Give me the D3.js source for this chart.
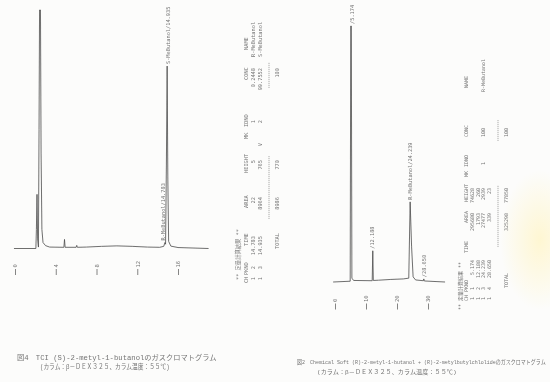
<!DOCTYPE html>
<html>
<head>
<meta charset="utf-8">
<script src="https://cdn.jsdelivr.net/npm/d3@7"></script>
<style>
body { margin: 0; background: #fcfcfb; }
svg { display: block; }
text { fill: #747474; }
.mono { font-family: "DejaVu Sans Mono", "Liberation Mono", "Noto Sans CJK JP", monospace; }
.cap { font-family: "Liberation Mono", "Noto Sans CJK JP", monospace; }
</style>
</head>
<body>
<div id="page"></div>
<script>
var W = 550, H = 382

// ---- fig 4 (left) : TCI (S)-2-metyl-1-butanol ----
// trace: [time min, signal % of full scale]
var trace1 = [[-0.1,0],[2.05,0],[2.1,8],[2.16,22.7],[2.22,4],[2.3,0.6],[2.36,50],[2.41,100],[2.5,100],[2.56,40],[2.64,8],[2.75,2.5],[3.0,1.2],[3.4,0.6],
  [4.8,0.5],[4.86,3.8],[4.92,0.5],[6.0,0.5],[6.06,1.3],[6.12,0.5],[7.0,0.6],[8.5,0.9],[10.0,1.1],[11.5,0.9],[13.0,0.6],[14.2,0.5],
  [14.6,0.9],[14.72,2.5],[14.78,1.8],[14.86,35],[14.935,76.5],[15.0,30],[15.08,3],[15.3,1],[16.0,0.4],[19.0,0]]
var ticks1 = [0, 4, 8, 12, 16]
var peakTime1 = [14.783, 14.935]
var peakTop1 = [2.5, 76.5]
var peakName1 = ["R-MeButanol", "S-MeButanol"]

var head = ["CH", "PKNO", "TIME", "AREA", "HEIGHT", "MK", "IDNO", "CONC", "NAME"]
var table1 = [
  [1, 2, "14.783", 22, 5, "", 1, "0.2448", "R-MeButanol"],
  [1, 3, "14.935", 8964, 765, "V", 2, "99.7552", "S-MeButanol"]
]
var total1 = ["TOTAL", 8986, 770, 100]

// ---- fig 2 (right) : Chemical Soft ----
var trace2 = [[-0.6,0],[4.9,0.3],[5.08,100],[5.26,100],[5.45,1.5],[6.0,0.6],[12.0,0.5],[12.188,12.2],[12.36,0.6],[14.0,0.7],[18.0,1.0],
  [22.0,1.2],[23.8,1.5],[24.239,31.3],[24.7,14],[25.2,2],[26.0,0.8],[28.5,0.5],[28.65,1.2],[28.8,0.4],[35.5,0]]
var ticks2 = [0, 10, 20, 30]
var peakTime2 = [5.174, 12.188, 24.239, 28.650]
var peakTop2 = [100, 12.2, 31.3, 1.1]
var peakName2 = ["", "", "R-MeButanol", ""]

var table2 = [
  [1, 1, "5.174", 295680, 74628, "", "", "", ""],
  [1, 2, "12.188", 1793, 260, "", "", "", ""],
  [1, 3, "24.239", 27477, 2939, "", 1, "100", "R-MeButanol"],
  [1, 4, "28.650", 339, 23, "", "", "", ""]
]
var total2 = ["TOTAL", 325298, 77850, 100]

var caption1 = ["図4　TCI (S)-2-metyl-1-butanolのガスクロマトグラム", "(カラム：β－ＤＥＸ３２５、カラム温度：５５℃)"]
var caption2 = ["図2　Chemical Soft (R)-2-metyl-1-butanol + (R)-2-metylbutylchlolideのガスクロマトグラム", "(カラム：β－ＤＥＸ３２５、カラム温度：５５℃)"]

var svg = d3.select("#page").append("svg").attr("width", W).attr("height", H)

var defs = svg.append("defs")
// the scan is slightly soft
defs.append("filter").attr("id", "soft")
  .append("feGaussianBlur").attr("stdDeviation", 0.3)
// faint yellowing of the paper on the right
var rg = defs.append("radialGradient").attr("id", "yel")
rg.append("stop").attr("offset", "0%").attr("stop-color", "#fff5c8").attr("stop-opacity", 0.8)
rg.append("stop").attr("offset", "100%").attr("stop-color", "#fff5c8").attr("stop-opacity", 0)
svg.append("ellipse").attr("cx", 540).attr("cy", 240).attr("rx", 40).attr("ry", 70).attr("fill", "url(#yel)")

var root = svg.append("g").attr("filter", "url(#soft)")

function vtext(g, x, y, str, anchor, size) {
  return g.append("text")
    .attr("class", "mono")
    .attr("transform", "translate(" + x + "," + y + ") rotate(-90)")
    .attr("text-anchor", anchor)
    .attr("dominant-baseline", "middle")
    .style("font-size", size + "px")
    .text(str)
}

function chromatogram(opt) {
  var g = root.append("g")
  var x = d3.scaleLinear().domain(opt.xd).range(opt.xr)
  var y = d3.scaleLinear().domain([0, 100]).range(opt.yr)
  var line = d3.line().x(d => x(d[0])).y(d => y(d[1]))
  g.append("path").datum(opt.trace)
    .attr("d", line)
    .attr("fill", "none")
    .attr("stroke", "#4a4a4a")
    .attr("stroke-width", 0.8)
    .attr("stroke-linejoin", "round")

  var ax = d3.axisBottom(x).tickValues(opt.ticks).tickSize(6).tickFormat(d3.format("d"))
  g.append("g")
    .attr("transform", "translate(0," + opt.axisY + ")")
    .style("color", "#666")
    .call(ax)
    .call(a => a.select(".domain").remove())
    .call(a => a.selectAll(".tick line").attr("stroke-width", 0.8))
    .call(a => a.selectAll(".tick text")
      .attr("class", "mono")
      .attr("font-size", 5.5)
      .attr("transform", "rotate(-90)")
      .attr("x", 1.5).attr("y", 0).attr("dy", "0.35em")
      .attr("text-anchor", "start"))

  opt.pTime.forEach(function(t, i) {
    var s = (opt.pName[i] ? opt.pName[i] : "") + "/" + t.toFixed(3)
    vtext(g, x(t) + (opt.pDx[i] || 0), y(opt.pTop[i]) - 2, s, "start", 5.3)
  })
}

chromatogram({
  trace: trace1, xd: [0, 16], xr: [15, 178], yr: [248.5, 10],
  ticks: ticks1, axisY: 269,
  pTime: peakTime1, pTop: peakTop1, pName: peakName1, pDx: [-2, 1.5]
})
chromatogram({
  trace: trace2, xd: [0, 30], xr: [335, 428], yr: [282, 26],
  ticks: ticks2, axisY: 303.5,
  pTime: peakTime2, pTop: peakTop2, pName: peakName2, pDx: [2, 0, 0, 1]
})

// rotated result tables
function resultTable(opt) {
  var g = root.append("g")
  vtext(g, opt.xs.title, opt.titleY, "** 定量計算結果 **", "start", opt.fs)
  head.forEach(function(h, j) {
    vtext(g, opt.xs.head, opt.cols[j][0], h, "start", opt.fs)
  })
  opt.rows.forEach(function(r, i) {
    r.forEach(function(v, j) {
      if (v === "") return
      var c = opt.cols[j]
      if (j == 8) vtext(g, opt.xs.rows[i], c[2], v, "start", opt.fs)
      else vtext(g, opt.xs.rows[i], c[1], String(v), "end", opt.fs)
    })
  })
  opt.dash.forEach(function(d) {
    g.append("line")
      .attr("x1", opt.xs.dash).attr("x2", opt.xs.dash)
      .attr("y1", d[0]).attr("y2", d[1])
      .attr("stroke", "#777").attr("stroke-width", 0.6)
      .attr("stroke-dasharray", "1.2,0.8")
  })
  vtext(g, opt.xs.total, opt.totalY, opt.total[0], "start", opt.fs)
  vtext(g, opt.xs.total, opt.cols[3][1], String(opt.total[1]), "end", opt.fs)
  vtext(g, opt.xs.total, opt.cols[4][1], String(opt.total[2]), "end", opt.fs)
  vtext(g, opt.xs.total, opt.cols[7][1], String(opt.total[3]), "end", opt.fs)
}

// cols: [header start y, value top y (numbers), value start y (names)]
resultTable({
  rows: table1, total: total1, fs: 5.3,
  xs: { title: 239, head: 246.5, rows: [254, 261], dash: 269, total: 277.5 },
  titleY: 280, totalY: 249,
  cols: [[283, 277], [275, 266], [246, 236], [208, 197], [173, 160], [139, 143], [127, 120], [80, 68], [50, 0, 57]],
  dash: [[219, 156], [88, 62]]
})
resultTable({
  rows: table2, total: total2, fs: 5,
  xs: { title: 461, head: 467, rows: [473, 478.5, 484, 489.5], dash: 498, total: 507 },
  titleY: 310, totalY: 288,
  cols: [[301, 297], [292, 287], [253, 260], [223, 213], [202, 188], [177, 175], [167, 162], [137, 128], [88, 0, 92]],
  dash: [[247, 185], [141, 120]]
})

// captions: squeeze each line horizontally to the width it has in the scan
function capLine(str, x, y, width, fs) {
  var t = root.append("text").attr("class", "cap").style("font-size", fs + "px").text(str)
  var sx = width / t.node().getComputedTextLength()
  t.attr("transform", "translate(" + x + "," + y + ") scale(" + sx + ",1)")
}
capLine(caption1[0], 17, 359.5, 200, 7)
capLine(caption1[1], 40, 368.5, 130, 7)
capLine(caption2[0], 297, 364, 249, 6)
capLine(caption2[1], 317, 373.5, 140, 6)
</script>
</body>
</html>
